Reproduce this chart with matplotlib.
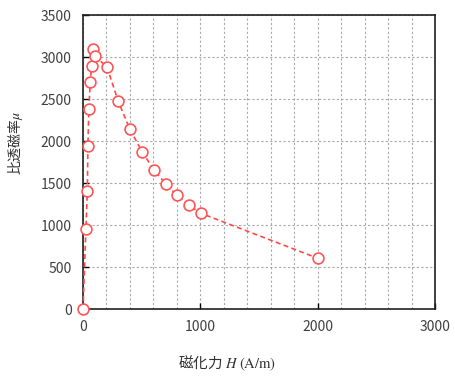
import matplotlib
matplotlib.use("Agg")
import matplotlib.pyplot as plt
from matplotlib.ticker import MultipleLocator

H = [0, 25, 37, 42, 50, 62, 74, 88, 102, 205, 300, 400, 505, 605, 705, 800, 900, 1005, 2000]
mu = [0, 955, 1405, 1945, 2385, 2700, 2900, 3095, 3015, 2880, 2475, 2140, 1870, 1655, 1490, 1355, 1240, 1140, 605]

plt.rcParams['font.family'] = ['Noto Sans CJK JP', 'DejaVu Sans']
plt.rcParams['mathtext.fontset'] = 'stix'

fig = plt.figure(figsize=(4.55, 3.78), dpi=100)
ax = fig.add_axes([0.1824, 0.1825, 0.956 - 0.1824, 0.960 - 0.1825])

ax.plot(H, mu, linestyle=(0, (3, 2)), color='#FF4848', linewidth=1.2,
        marker='o', markersize=7.8, markerfacecolor='white',
        markeredgecolor='#FF5555', markeredgewidth=1.2, clip_on=False, zorder=3)

ax.set_xlim(0, 3000)
ax.set_ylim(0, 3500)
ax.xaxis.set_major_locator(MultipleLocator(1000))
ax.xaxis.set_minor_locator(MultipleLocator(200))
ax.yaxis.set_major_locator(MultipleLocator(500))
ax.grid(which='both', axis='x', color='#A8A8A8', linestyle=(0, (2, 2)), linewidth=0.8)
ax.grid(which='major', axis='y', color='#A8A8A8', linestyle=(0, (2, 2)), linewidth=0.8)
ax.tick_params(which='major', direction='in', length=4, width=1, labelsize=10,
               labelcolor='#404040', pad=8)
ax.tick_params(which='minor', length=0)
for s in ax.spines.values():
    s.set_linewidth(1.2)
    s.set_color('#202020')

ax.set_xlabel('磁化力 $H\\ \\mathrm{(A/m)}$', fontsize=10.5, color='#303030')
ax.xaxis.set_label_coords(0.41, -0.152)
ax.set_ylabel('比透磁率$\\mu$', fontsize=10, color='#303030')
ax.yaxis.set_label_coords(-0.165, 0.565)

fig.savefig('out.png', dpi=100)
